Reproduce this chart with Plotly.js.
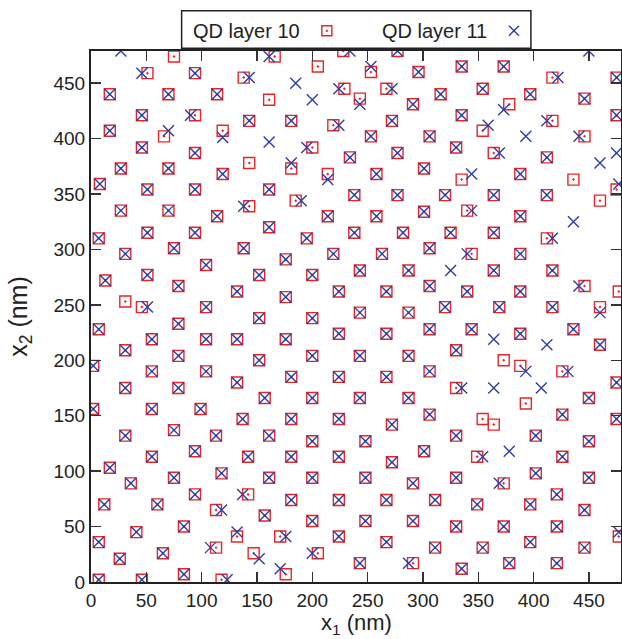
<!DOCTYPE html>
<html>
<head>
<meta charset="utf-8">
<script src="https://cdn.plot.ly/plotly-3.0.1.min.js"></script>
<style>html,body{margin:0;padding:0;background:#fff;}#chart{width:622px;height:639px;}</style>
</head>
<body>
<div id="chart"></div>
<script>
// Dots present in both layers (nm)
const sharedX = [
  94,17,70,114,46,143,17,46,94,27,
  70,119,8,51,94,161,27,70,114,277,
  296,316,291,181,272,253,306,277,234,258,
  301,238,277,320,214,258,301,161,335,373,
  475,354,397,446,335,475,330,412,388,364,
  412,388,7,51,94,138,31,75,104,13,
  51,152,79,132,104,152,79,7,55,104,
  132,31,79,2,55,104,152,132,31,79,
  157,195,238,282,176,219,263,306,200,243,
  287,176,224,267,306,200,243,287,176,224,
  267,306,200,243,287,306,181,224,267,200,
  243,287,325,364,388,364,417,340,388,320,
  369,417,344,388,436,460,330,475,450,2,
  55,99,137,31,75,113,161,55,94,142,
  17,36,75,118,161,12,60,94,157,41,
  84,7,26,65,7,46,84,181,224,272,
  306,200,248,301,181,224,272,200,248,291,
  181,224,267,311,200,248,291,224,267,311,
  243,426,475,330,402,450,426,330,402,450,
  349,397,421,446,330,373,421,354,397,446,
  335,378,421
];
const sharedY = [
  459,440,440,440,421,416,407,392,387,373,
  373,368,359,354,354,354,335,335,330,479,
  460,440,431,416,416,402,402,387,383,368,
  373,349,349,349,330,330,334,320,465,465,
  455,445,440,436,421,421,392,383,368,349,
  349,330,310,315,315,301,296,301,286,272,
  277,277,267,262,248,238,233,228,219,219,
  219,209,204,195,190,190,200,180,175,175,
  166,310,315,315,291,296,296,301,277,281,
  281,257,262,262,267,238,243,243,219,224,
  224,228,204,204,204,190,185,185,185,166,
  166,166,315,315,296,281,281,262,262,248,
  248,248,228,224,228,214,209,180,166,156,
  156,156,147,132,137,132,132,113,118,113,
  103,89,94,98,94,70,70,79,60,45,
  50,36,21,26,2,2,7,147,147,142,
  151,127,127,118,113,113,108,94,94,89,
  74,74,74,74,55,55,55,41,36,31,
  17,151,147,132,132,127,113,94,98,94,
  70,70,79,65,50,50,50,31,36,31,
  12,17,17
];
// Dots only in QD layer 10 (nm)
const layer10OnlyX = [75,51,138,161,94,66,119,143,143,166,228,205,253,229,267,243,219,200,181,214,185,417,378,417,354,446,364,335,436,475,460,340,31,46,412,344,446,477,460,373,388,426,330,393,142,113,132,113,147,118,171,205,291,176,354,364,349,373,477];
const layer10OnlyY = [474,459,455,435,421,402,407,378,339,474,479,465,460,445,445,436,412,392,373,368,344,455,431,416,407,402,387,363,363,354,344,335,253,248,310,296,267,262,248,200,195,190,175,161,79,65,41,31,26,2,41,26,17,7,147,142,113,89,41];
// Dots only in QD layer 11 (nm)
const layer11OnlyX = [27,161,46,143,90,70,119,161,138,234,253,185,224,272,200,243,224,195,181,214,190,422,450,373,412,359,393,441,369,475,460,344,477,344,436,51,417,340,325,441,460,364,412,393,431,335,364,407,137,118,132,108,152,123,176,200,287,171,354,378,369,477];
const layer11OnlyY = [479,474,459,455,421,407,401,397,339,479,465,450,445,445,435,431,412,392,378,363,344,455,479,426,416,412,402,402,387,387,378,368,359,335,325,248,310,296,281,267,243,219,214,190,190,175,175,175,79,65,45,31,21,2,41,26,17,12,113,118,89,45];

const seriesNames = ['QD layer 10', 'QD layer 11'];
const tickVals = [0,50,100,150,200,250,300,350,400,450];

const RED = '#e4262a', BLUE = '#2e3d9e';

const traces = [
  {type:'scatter', mode:'markers', name:seriesNames[0],
   x: sharedX.concat(layer10OnlyX), y: sharedY.concat(layer10OnlyY),
   marker:{symbol:'square-open-dot', size:11, color:RED, line:{color:RED, width:1.4}}},
  {type:'scatter', mode:'markers', name:seriesNames[1],
   x: sharedX.concat(layer11OnlyX), y: sharedY.concat(layer11OnlyY),
   marker:{symbol:'x-thin-open', size:11, color:BLUE, line:{color:BLUE, width:1.4}}}
];

const FONT = 'Liberation Sans, Arial, Helvetica, sans-serif';
const axisCommon = {
  range:[0,479], tickvals:tickVals, ticks:'inside', ticklen:10, tickwidth:1.5, tickcolor:'#333',
  showline:true, linecolor:'#222', linewidth:2, mirror:'ticks',
  showgrid:false, zeroline:false, fixedrange:true,
  tickfont:{size:19, family:FONT, color:'#222'}
};

const lx1 = 0.445, lx2 = 0.798, ly = 1.038;
const layout = {
  width:622, height:639,
  margin:{l:91, r:1, t:51, b:57},
  paper_bgcolor:'#fff', plot_bgcolor:'#fff',
  showlegend:false,
  font:{family:FONT, color:'#222'},
  xaxis: Object.assign({}, axisCommon),
  yaxis: Object.assign({}, axisCommon, {title:{text:'x<sub>2</sub> (nm)', font:{size:25, family:FONT, color:'#222'}, standoff:19}}),
  shapes:[
    {type:'rect', xref:'paper', yref:'paper', x0:0.171, x1:0.830, y0:1.005, y1:1.076, line:{color:'#222', width:1.5}, fillcolor:'rgba(0,0,0,0)'},
    {type:'rect', xref:'paper', yref:'paper', xsizemode:'pixel', ysizemode:'pixel', xanchor:lx1, yanchor:ly, x0:-5, x1:5, y0:-5, y1:5, line:{color:RED, width:1.4}},
    {type:'circle', xref:'paper', yref:'paper', xsizemode:'pixel', ysizemode:'pixel', xanchor:lx1, yanchor:ly, x0:-0.8, x1:0.8, y0:-0.8, y1:0.8, line:{color:RED, width:1}, fillcolor:RED},
    {type:'line', xref:'paper', yref:'paper', xsizemode:'pixel', ysizemode:'pixel', xanchor:lx2, yanchor:ly, x0:-5, x1:5, y0:-5, y1:5, line:{color:BLUE, width:1.4}},
    {type:'line', xref:'paper', yref:'paper', xsizemode:'pixel', ysizemode:'pixel', xanchor:lx2, yanchor:ly, x0:-5, x1:5, y0:5, y1:-5, line:{color:BLUE, width:1.4}}
  ],
  annotations:[
    {xref:'paper', yref:'paper', x:0.189, y:ly, xanchor:'left', yanchor:'middle', text:seriesNames[0], showarrow:false, font:{size:20, family:FONT, color:'#222'}},
    {xref:'paper', yref:'paper', x:0.545, y:ly, xanchor:'left', yanchor:'middle', text:seriesNames[1], showarrow:false, font:{size:20, family:FONT, color:'#222'}},
    {xref:'paper', yref:'paper', x:0.5, y:-0.079, xanchor:'center', yanchor:'middle', text:'x<sub>1</sub> (nm)', showarrow:false, font:{size:22, family:FONT, color:'#222'}}
  ]
};

Plotly.newPlot('chart', traces, layout, {displayModeBar:false, staticPlot:true});
</script>
</body>
</html>
